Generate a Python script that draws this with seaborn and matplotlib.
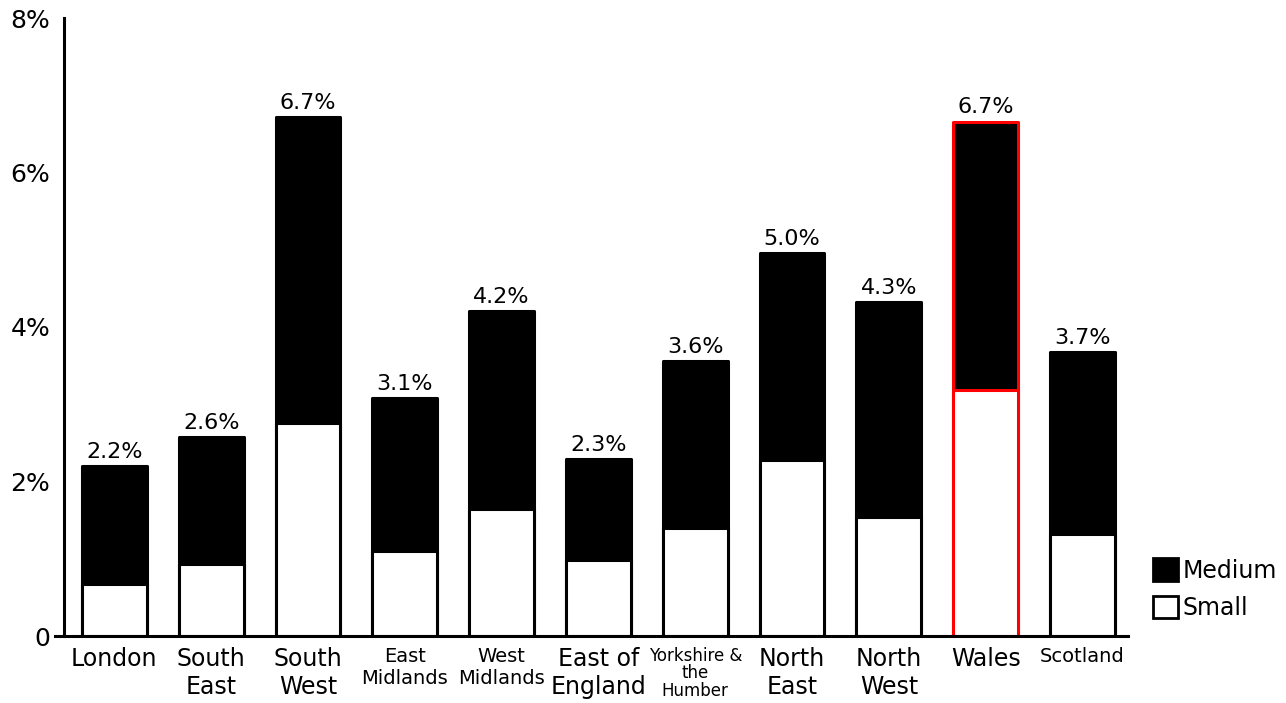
import matplotlib
matplotlib.use("Agg")
import matplotlib.pyplot as plt
from matplotlib.patches import Patch
import seaborn as sns
import pandas as pd

# Regions and business-size shares (%)
regions = ["London", "South\nEast", "South\nWest", "East\nMidlands", "West\nMidlands",
           "East of\nEngland", "Yorkshire &\nthe\nHumber", "North\nEast", "North\nWest",
           "Wales", "Scotland"]
small = [0.67, 0.93, 2.76, 1.10, 1.64, 0.98, 1.40, 2.28, 1.54, 3.18, 1.32]
medium = [1.53, 1.65, 3.96, 1.98, 2.57, 1.31, 2.16, 2.68, 2.78, 3.48, 2.36]
y_ticks = [0, 2, 4, 6, 8]
y_tick_labels = ["0", "2%", "4%", "6%", "8%"]
highlight = "Wales"

total = [s + m for s, m in zip(small, medium)]
df = pd.DataFrame({"region": regions, "small": small, "medium": medium, "total": total})

sns.set_style("white")
plt.rcParams["font.family"] = ["DejaVu Sans"]
plt.rcParams["text.color"] = "black"
plt.rcParams["xtick.color"] = "black"
plt.rcParams["ytick.color"] = "black"
plt.rcParams["axes.labelcolor"] = "black"

fig = plt.figure(figsize=(12.86, 7.03), dpi=100)
ax = fig.add_axes([64 / 1286, 1 - 636 / 703, (1128 - 64) / 1286, (636 - 18) / 703])

bar_w = 0.67
edge_lw = 2.2

# Full stack (medium on top) drawn first, small share drawn over its base
sns.barplot(data=df, x="region", y="total", color="black", saturation=1,
            width=bar_w, edgecolor="black", linewidth=edge_lw, ax=ax)
n = len(regions)
sns.barplot(data=df, x="region", y="small", color="white", saturation=1,
            width=bar_w, edgecolor="black", linewidth=edge_lw, ax=ax)

hi = [r.replace("\n", " ") for r in regions].index(highlight)
for i, p in enumerate(ax.patches):
    p.set_joinstyle("round")
    if i % n == hi:
        p.set_edgecolor("red")

# Value labels on top of each stack
ax.bar_label(ax.containers[0], labels=[f"{t:.1f}%" for t in total],
             padding=3, fontsize=16, color="black")

ax.set_ylim(0, 8)
ax.set_xlim(-0.52, n - 0.53)
ax.set_yticks(y_ticks)
ax.set_yticklabels(y_tick_labels, fontsize=18)
ax.set_xlabel("")
ax.set_ylabel("")

label_sizes = {"East\nMidlands": 14, "West\nMidlands": 14, "Scotland": 14,
               "Yorkshire &\nthe\nHumber": 12}
for lab in ax.get_xticklabels():
    txt = lab.get_text()
    lab.set_fontsize(label_sizes.get(txt, 17))
    if txt.startswith("Yorkshire"):
        lab.set_linespacing(0.95)

ax.tick_params(axis="x", length=0, pad=8)
ax.tick_params(axis="y", length=8, width=2, pad=2, direction="out")

for side in ["top", "right"]:
    ax.spines[side].set_visible(False)
for side in ["left", "bottom"]:
    ax.spines[side].set_linewidth(2.2)
    ax.spines[side].set_color("black")
ax.spines["bottom"].set_bounds(-0.61, n - 0.53)

handles = [Patch(facecolor="black", edgecolor="black", linewidth=2, label="Medium"),
           Patch(facecolor="white", edgecolor="black", linewidth=2, label="Small")]
fig.legend(handles=handles, loc="lower left", bbox_to_anchor=(1153 / 1286, 1 - 620 / 703),
           frameon=False, fontsize=17, handlelength=1.05, handleheight=1.1,
           handletextpad=0.2, labelspacing=0.55, borderpad=0, borderaxespad=0)

fig.savefig("out.png", dpi=100, facecolor="white")
